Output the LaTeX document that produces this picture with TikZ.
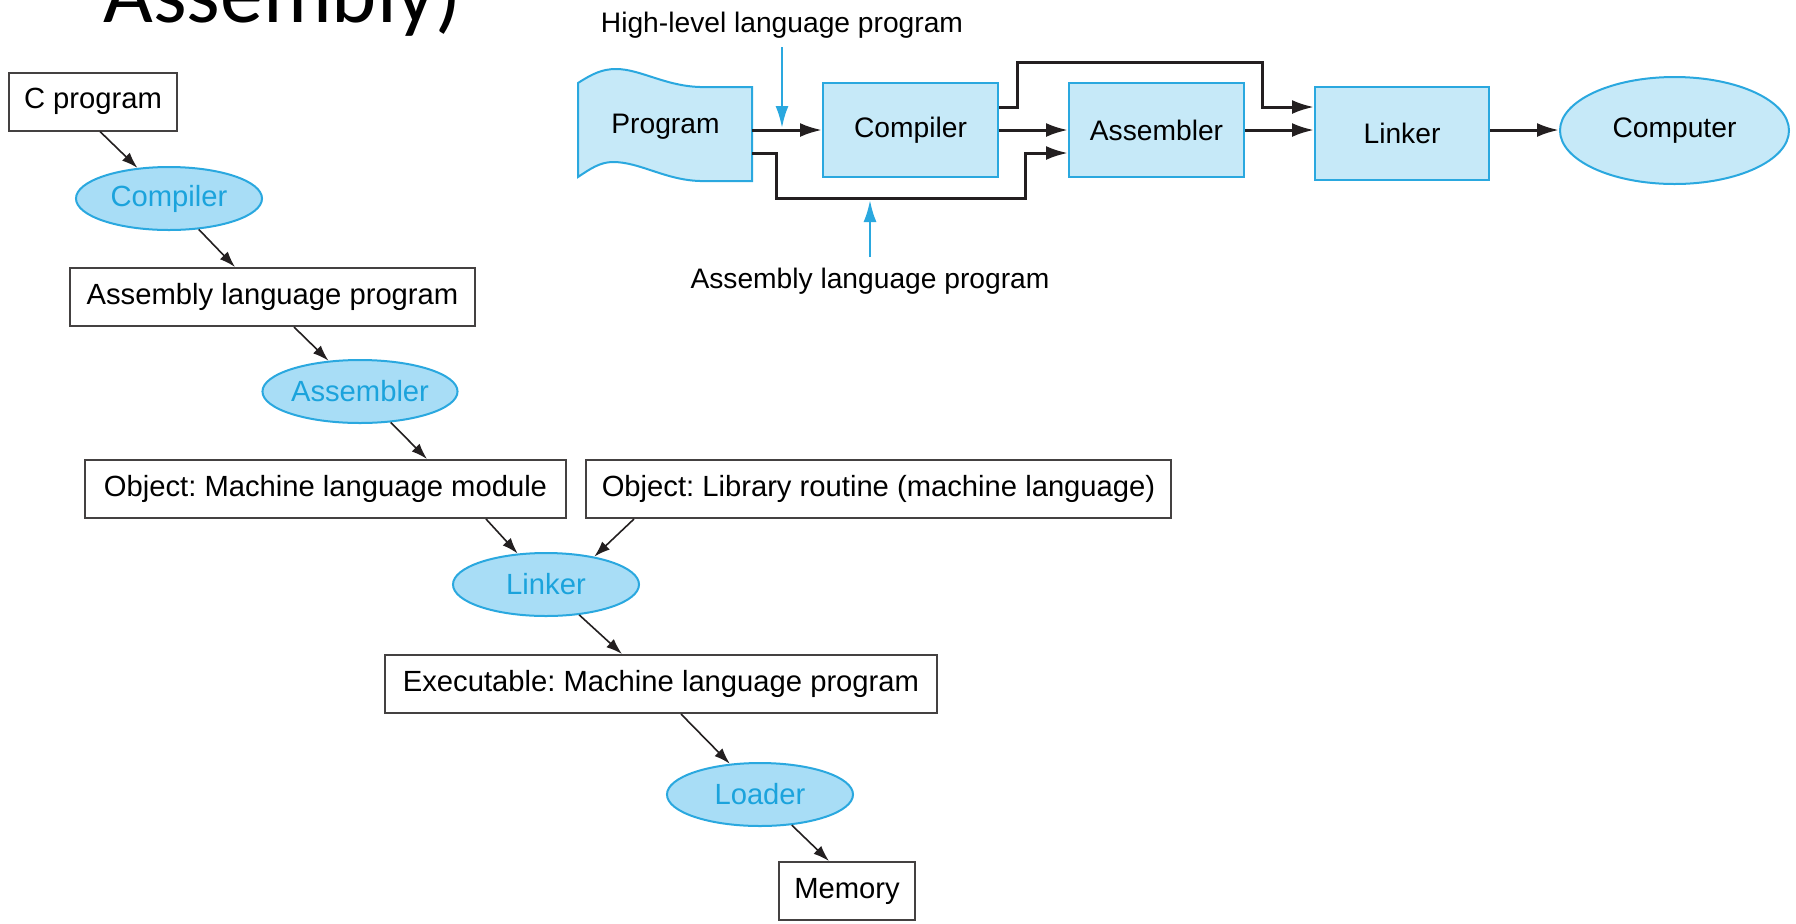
\documentclass[tikz,border=0pt]{standalone}
\usepackage{fontspec}
\setmainfont{Liberation Sans}
\newfontfamily\titlefont{Carlito}
\usetikzlibrary{arrows.meta,calc,shapes.geometric}
\frenchspacing

\definecolor{boxfill}{HTML}{C6E9F8}
\definecolor{ovalfill}{HTML}{A8DDF6}
\definecolor{cyanline}{HTML}{2AA8DF}
\definecolor{cyantext}{HTML}{1BA3DC}
\definecolor{inkline}{HTML}{231F20}

\begin{document}
\frenchspacing
\begin{tikzpicture}[x=0.5pt,y=-0.5pt,
  leftfont/.style={font=\fontsize{14.6}{17}\selectfont},
  rightfont/.style={font=\fontsize{14.1}{17}\selectfont},
  plainbox/.style={draw=inkline!85, line width=1pt, fill=white, inner sep=0pt,
    minimum height=29pt, leftfont},
  tooloval/.style={ellipse, draw=cyanline, fill=ovalfill, line width=1pt,
    inner sep=0pt, minimum width=93pt, minimum height=31.5pt, text=cyantext, leftfont},
  stagebox/.style={rectangle, draw=cyanline, fill=boxfill, line width=1pt,
    inner sep=0pt, minimum width=87.5pt, minimum height=47pt, rightfont},
  larr/.style={-{Latex[length=8pt,width=5.5pt]}, line width=0.8pt, draw=inkline},
  farr/.style={-{Latex[length=11pt,width=7pt]}, line width=1.5pt, draw=inkline},
  barr/.style={-{Latex[length=11pt,width=6.5pt]}, line width=1.25pt, draw=cyanline},
  lbl/.style={inner sep=0pt, rightfont}
]
\useasboundingbox (0,0) rectangle (1796,923);
\fill[white] (0,0) rectangle (1796,923);

% heading, cut by the top edge
\node[anchor=base west, inner sep=0pt, font=\titlefont\fontsize{43}{50}\selectfont]
  (heading) at (103,22) {Assembly)};

% ---------- translation hierarchy (left) ----------
\node[plainbox, minimum width=84pt]    (cprog) at (93,101.5)  {C program};
\node[tooloval]                        (comp1) at (169,198.5) {Compiler};
\node[plainbox, minimum width=202.5pt] (asmb)  at (272.5,297) {Assembly language program};
\node[tooloval]                        (asm1)  at (360,391.5) {Assembler};
\node[plainbox, minimum width=240.5pt] (objm)  at (325.5,489) {Object: Machine language module};
\node[plainbox, minimum width=292.5pt] (objl)  at (878.5,489) {Object: Library routine (machine language)};
\node[tooloval]                        (link1) at (546,584.5) {Linker};
\node[plainbox, minimum width=276pt]   (exe)   at (661,684)   {Executable: Machine language program};
\node[tooloval]                        (load1) at (760,794.5) {Loader};
\node[plainbox, minimum width=68pt]    (mem)   at (847,891)   {Memory};

\draw[larr] ($(cprog.south west)+(92,0)$) -- (comp1);
\draw[larr] (comp1) -- ($(asmb.north west)+(166,0)$);
\draw[larr] ($(asmb.south west)+(225,0)$) -- (asm1);
\draw[larr] (asm1) -- ($(objm.north west)+(343,0)$);
\draw[larr] ($(objm.south west)+(402,0)$) -- (link1);
\draw[larr] ($(objl.south west)+(49,0)$) -- (link1.30);
\draw[larr] (link1) -- ($(exe.north west)+(238,0)$);
\draw[larr] ($(exe.south west)+(297,0)$) -- (load1);
\draw[larr] (load1) -- ($(mem.north west)+(51,0)$);

% ---------- tool chain (right) ----------
\node[rectangle, inner sep=0pt, minimum width=87pt, minimum height=47pt, rightfont]
  (prog) at (665,130) {};
\draw[cyanline, fill=boxfill, line width=1pt]
  (578,83) .. controls (592,74) and (602,69) .. (616,69)
  .. controls (640,69) and (665,86) .. (700,87) -- (752,87) -- (752,181)
  -- (700,181) .. controls (665,180) and (640,162) .. (613,162)
  .. controls (600,162) and (590,169) .. (578,177) -- cycle;
\node[rightfont] at (665.5,127) {Program};

\node[stagebox] (comp) at (910.5,130) {Compiler};
\node[stagebox] (asm)  at (1156.5,130) {Assembler};
\node[stagebox, minimum width=87pt, minimum height=46.5pt] (link) at (1402,133.5) {Linker};
\node[ellipse, draw=cyanline, fill=boxfill, line width=1pt, inner sep=0pt,
  minimum width=114.5pt, minimum height=53.5pt, rightfont] (cpu) at (1674.5,130.5) {Computer};

\coordinate (midy) at (0,130);
\coordinate (upy)  at (0,107);
\coordinate (lowy) at (0,153);
\coordinate (upA)  at (1017,62);
\coordinate (upB)  at (1262,107);
\coordinate (lowA) at (776,198);
\coordinate (lowB) at (1025,153);

\draw[farr] (prog.east) -- (comp.west);
\draw[farr] (comp.east) -- (asm.west);
\draw[farr] (asm.east) -- (link.west |- midy);
\draw[farr] (link.east |- midy) -- (cpu.west |- midy);
\draw[farr] (comp.east |- upy) -| (upA) -| (upB) -- (link.west |- upy);
\draw[farr] (prog.east |- lowy) -| (lowA) -| (lowB) -- (asm.west |- lowy);

\node[lbl, anchor=base] (hltext) at (782,32)  {High-level language program};
\node[lbl, anchor=base] (altext) at (870,288) {Assembly language program};
\coordinate (hltip) at (782,128);
\coordinate (altip) at (870,200);
\draw[barr] ($(hltext.south)+(0,9)$) -- (hltip);
\draw[barr] ($(altext.north)+(0,-10)$) -- (altip);
\end{tikzpicture}
\end{document}
